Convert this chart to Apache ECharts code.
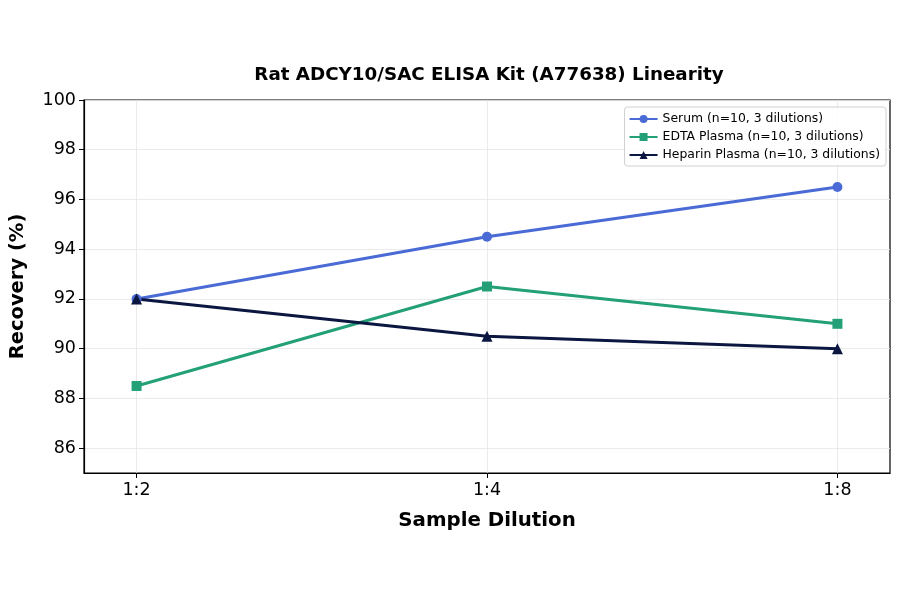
<!DOCTYPE html>
<html>
<head>
<meta charset="utf-8">
<script src="https://cdn.jsdelivr.net/npm/echarts@6/dist/echarts.min.js"></script>
<style>
  html, body { margin: 0; padding: 0; background: #fff; }
  #chart { width: 900px; height: 594px; }
</style>
</head>
<body>
<div id="chart"></div>
<script>
var dilutions = ['1:2', '1:4', '1:8'];
var serum = [92.0, 94.5, 96.5];
var edtaPlasma = [88.5, 92.5, 91.0];
var heparinPlasma = [92.0, 90.5, 90.0];
var yTicks = [86, 88, 90, 92, 94, 96, 98, 100];

// pair each value with its dilution index on the x axis
function toPoints(values) {
  return values.map(function (v, i) { return [i, v]; });
}

var font = 'DejaVu Sans';

var option = {
  animation: false,
  backgroundColor: '#fff',
  title: {
    text: 'Rat ADCY10/SAC ELISA Kit (A77638) Linearity',
    left: 484,
    top: 61,
    textAlign: 'center',
    textStyle: { fontFamily: font, fontWeight: 'bold', fontSize: 18.3, color: '#000' }
  },
  grid: {
    left: 81, right: 10, top: 100, bottom: 121,
    show: true, borderColor: '#000', borderWidth: 1.2
  },
  legend: {
    orient: 'vertical',
    right: 14,
    top: 107,
    itemGap: 6,
    itemWidth: 28,
    itemHeight: 10,
    padding: [6, 6, 5, 4],
    borderColor: '#d0d0d0',
    borderWidth: 1,
    borderRadius: 3,
    backgroundColor: 'rgba(255,255,255,0.85)',
    textStyle: { fontFamily: font, fontSize: 12.4, color: '#000' },
    data: ['Serum (n=10, 3 dilutions)', 'EDTA Plasma (n=10, 3 dilutions)', 'Heparin Plasma (n=10, 3 dilutions)']
  },
  xAxis: {
    type: 'value',
    min: -0.15,
    max: 2.15,
    name: 'Sample Dilution',
    nameLocation: 'middle',
    nameGap: 38,
    nameTextStyle: { fontFamily: font, fontWeight: 'bold', fontSize: 19.8, color: '#000' },
    axisLine: { show: true, onZero: false, lineStyle: { color: '#000', width: 1.2 } },
    axisTick: { show: true, customValues: [0, 1, 2], length: 5, lineStyle: { color: '#000' } },
    axisLabel: {
      customValues: [0, 1, 2],
      fontFamily: font, fontSize: 17.5, color: '#000', margin: 8,
      formatter: function (v) { return dilutions[Math.round(v)]; }
    },
    splitLine: { show: true, lineStyle: { color: '#e6e6e6', width: 0.8 } }
  },
  yAxis: {
    type: 'value',
    min: 85,
    max: 100,
    name: 'Recovery (%)',
    nameLocation: 'middle',
    nameGap: 56,
    nameTextStyle: { fontFamily: font, fontWeight: 'bold', fontSize: 19.5, color: '#000' },
    axisLine: { show: true, onZero: false, lineStyle: { color: '#000', width: 1.2 } },
    axisTick: { show: true, customValues: yTicks, length: 5, lineStyle: { color: '#000' } },
    axisLabel: { customValues: yTicks, fontFamily: font, fontSize: 17.5, color: '#000', margin: 8 },
    splitLine: { show: true, lineStyle: { color: '#e6e6e6', width: 0.8 } }
  },
  series: [
    {
      name: 'Serum (n=10, 3 dilutions)',
      type: 'line',
      data: toPoints(serum),
      symbol: 'circle',
      symbolSize: 10,
      itemStyle: { color: '#4a6bd6' },
      lineStyle: { width: 3, color: '#4a6bd6' }
    },
    {
      name: 'EDTA Plasma (n=10, 3 dilutions)',
      type: 'line',
      data: toPoints(edtaPlasma),
      symbol: 'rect',
      symbolSize: 10,
      itemStyle: { color: '#23a077' },
      lineStyle: { width: 3, color: '#23a077' }
    },
    {
      name: 'Heparin Plasma (n=10, 3 dilutions)',
      type: 'line',
      data: toPoints(heparinPlasma),
      symbol: 'triangle',
      symbolSize: 11,
      itemStyle: { color: '#0b1740' },
      lineStyle: { width: 3, color: '#0b1740' }
    }
  ]
};

var chart = echarts.init(document.getElementById('chart'));
chart.setOption(option);
</script>
</body>
</html>
